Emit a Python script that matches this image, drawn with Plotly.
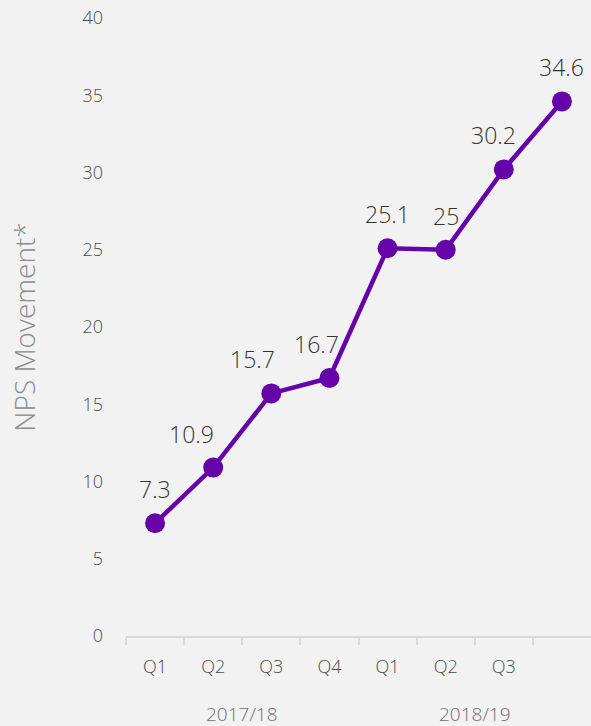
import plotly.graph_objects as go

quarters = ["Q1", "Q2", "Q3", "Q4", "Q1", "Q2", "Q3", ""]
years = ["2017/18", "2018/19"]
nps = [7.3, 10.9, 15.7, 16.7, 25.1, 25, 30.2, 34.6]
label_dx = [0, -22, -19, -13, 0, 0, -10, 0]

xs = [i + 0.5 for i in range(len(nps))]
purple = "#6603a8"
font_fam = "Open Sans, Noto Sans, sans-serif"

fig = go.Figure()
fig.add_trace(go.Scatter(
    x=xs, y=nps, mode="lines+markers",
    line=dict(color=purple, width=4.5),
    marker=dict(color=purple, size=20),
    hoverinfo="skip", showlegend=False,
))

for x, v, dx in zip(xs, nps, label_dx):
    fig.add_annotation(
        x=x, y=v, text=f"{v:g}", showarrow=False,
        xshift=dx, yshift=34, xanchor="center", yanchor="middle",
        font=dict(family=font_fam, size=23, color="#333333", weight=300),
    )

for k, yr in enumerate(years):
    fig.add_annotation(
        x=2 + 4 * k, y=0, xref="x", yref="paper", text=yr,
        showarrow=False, yshift=-78, yanchor="middle",
        font=dict(family=font_fam, size=19, color="#707070", weight=300),
    )

fig.update_layout(
    width=591, height=726,
    margin=dict(l=125.5, r=0, t=18, b=90),
    paper_bgcolor="#f2f2f2", plot_bgcolor="#f2f2f2",
    xaxis=dict(
        range=[0, 8], tickvals=xs, ticktext=quarters,
        showgrid=False, zeroline=False, showline=True,
        linecolor="#d9d9d9", linewidth=1.5,
        ticks="", ticklabelstandoff=14,
        tickfont=dict(family=font_fam, size=18, color="#4d4d4d", weight=300),
        minor=dict(tickvals=list(range(8)), ticks="outside",
                   ticklen=7, tickcolor="#d9d9d9", tickwidth=1.5),
        fixedrange=True,
    ),
    yaxis=dict(
        range=[0, 40], dtick=5, showgrid=False, zeroline=False,
        showline=False, ticks="", ticklabelstandoff=22,
        tickfont=dict(family=font_fam, size=18, color="#4d4d4d", weight=300),
        title=dict(text="NPS Movement*", standoff=38,
                   font=dict(family=font_fam, size=28, color="#8c8c8c", weight=300)),
        fixedrange=True,
    ),
)

fig.write_html("out.html")
